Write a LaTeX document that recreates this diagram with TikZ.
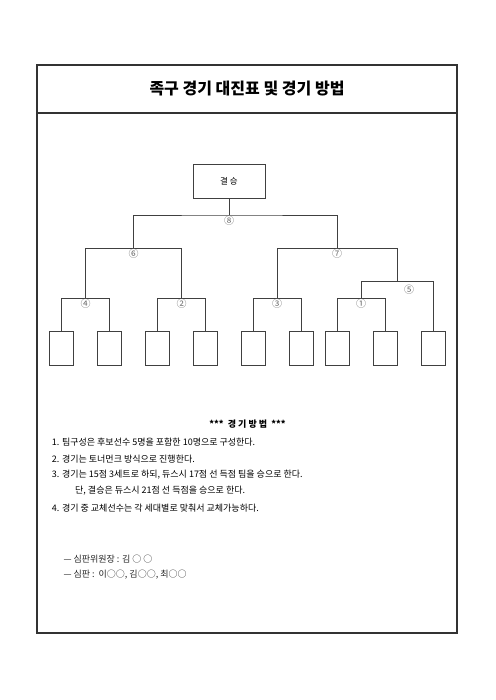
\documentclass[tikz,border=0pt]{standalone}
\usepackage{fontspec}
\setmainfont{Noto Sans CJK KR}
\usetikzlibrary{positioning}

\tikzset{
  frame/.style={draw=black!80, line width=1.1pt},
  link/.style={draw=black!75, line width=0.8pt},
  team/.style={draw=black!75, line width=0.8pt, minimum width=24pt, minimum height=34pt, inner sep=0pt},
  game/.style={font=\fontsize{10}{10}\selectfont, text=black!60, inner sep=0.5pt, below},
  rule/.style={font=\fontsize{9}{10}\selectfont, anchor=west, inner sep=0pt},
}

\begin{document}
\begin{tikzpicture}[x=1pt, y=-1pt]
\useasboundingbox (0,0) rectangle (495,700);

% page frame and title
\draw[frame] (37,65) rectangle (457,633);
\draw[frame] (37,113) -- (457,113);
\node (title) at (247,89) {\fontsize{16}{16}\selectfont\bfseries 족구 경기 대진표 및 경기 방법};

% final
\node[team, minimum width=72pt, font=\fontsize{8.5}{8.5}\selectfont] (final) at (229,181) {결 승};

% teams
\node[team] (t1) at (61.5,348.7) {};
\node[team] (t2) at (109.5,348.7) {};
\node[team] (t3) at (157.5,348.7) {};
\node[team] (t4) at (205.5,348.7) {};
\node[team] (t5) at (253,348.7) {};
\node[team] (t6) at (301,348.7) {};
\node[team] (t7) at (337,348.7) {};
\node[team] (t8) at (385,348.7) {};
\node[team] (t9) at (433,348.7) {};

% junctions
\coordinate (g8) at (229,215);
\coordinate (g6) at (133.5,248.3);
\coordinate (g7) at (337,248.3);
\coordinate (g5) at (397,281.7);
\coordinate (g4) at (85.5,298.3);
\coordinate (g2) at (181.5,298.3);
\coordinate (g3) at (277,298.3);
\coordinate (g1) at (361,298.3);

% bracket
\draw[link] (t1.north) |- (g4) -| (t2.north);
\draw[link] (t3.north) |- (g2) -| (t4.north);
\draw[link] (t5.north) |- (g3) -| (t6.north);
\draw[link] (t7.north) |- (g1) -| (t8.north);
\draw[link] (g1) |- (g5) -| (t9.north);
\draw[link] (g4) |- (g6) -| (g2);
\draw[link] (g3) |- (g7) -| (g5);
\draw[link] (g6) |- (g8) -| (g7);
\draw[link] (final.south) -- (g8);

\node[game] (n8) at (g8) {⑧};
\node[game] (n6) at (g6) {⑥};
\node[game] (n7) at (g7) {⑦};
\node[game] (n5) at (409,284.5) {⑤};
\node[game] (n4) at (g4) {④};
\node[game] (n2) at (g2) {②};
\node[game] (n3) at (g3) {③};
\node[game] (n1) at (g1) {①};

% rules
\node[font=\fontsize{9}{10}\selectfont\bfseries] (head) at (247.5,424) {***\ \ 경 기 방 법\ \ ***};
\node[rule] (r1) at (51.7,442) {1. 팀구성은 후보선수 5명을 포함한 10명으로 구성한다.};
\node[rule] (r2) at (51.7,459) {2. 경기는 토너먼크 방식으로 진행한다.};
\node[rule] (r3) at (51.7,475) {3. 경기는 15점 3세트로 하되, 듀스시 17점 선 득점 팀을 승으로 한다.};
\node[rule] (r3b) at (75,491) {단, 결승은 듀스시 21점 선 득점을 승으로 한다.};
\node[rule] (r4) at (51.7,508) {4. 경기 중 교체선수는 각 세대별로 맞춰서 교체가능하다.};

% referees
\node[rule, text=black!85] (ref1) at (63.3,559) {— 심판위원장 : 김 ○ ○};
\node[rule, text=black!85] (ref2) at (63.3,575) {— 심판 :\ \ 이○○, 김○○, 최○○};
\end{tikzpicture}
\end{document}
